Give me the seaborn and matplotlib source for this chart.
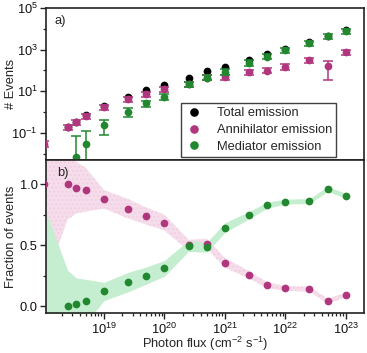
import numpy as np
import pandas as pd
import seaborn as sns
import matplotlib.pyplot as plt
from matplotlib.lines import Line2D
from matplotlib.ticker import LogLocator, NullFormatter, MultipleLocator

# photon flux (cm-2 s-1)
flux = [1e18, 2.5e18, 3.5e18, 5e18, 1e19, 2.5e19, 5e19, 1e20, 2.5e20, 5e20,
        1e21, 2.5e21, 5e21, 1e22, 2.5e22, 5e22, 1e23]

# panel a: number of events
total = [np.nan, 0.19, 0.33, 0.68, 1.95, 5.5, 11.5, 20, 42, 95,
         152, 318, 600, 1050, 2200, 4500, 8500]
annih = [0.030, 0.19, 0.32, 0.65, 1.7, 4.1, 7.2, 12.5, 22, 45,
         47, 82, 98, 152, 310, 165, 745]
annih_err = [0.009, 0.055, 0.09, 0.19, 0.48, 1.15, 2.0, 3.5, 6, 12,
             13, 23, 27, 42, 85, 132, 205]
med = [np.nan, np.nan, 0.0071, 0.0295, 0.235, 1.05, 2.6, 5.5, 22, 45,
       87, 237, 460, 975, 2050, 4300, 8100]
med_err = [np.nan, np.nan, 0.065, 0.09, 0.155, 0.45, 0.8, 1.6, 6, 12,
           24, 66, 125, 270, 570, 1200, 2200]

# panel b: fraction of events
annih_frac = [1.0, 1.0, 0.973, 0.956, 0.877, 0.80, 0.74, 0.686, 0.50, 0.514,
              0.355, 0.257, 0.172, 0.145, 0.139, 0.041, 0.09]
med_frac = [np.nan, 0.003, 0.02, 0.04, 0.12, 0.197, 0.251, 0.31, 0.494, 0.483,
            0.645, 0.746, 0.83, 0.858, 0.863, 0.961, 0.907]
frac_err = [0.83, 0.29, 0.21, 0.18, 0.075, 0.08, 0.07, 0.065, 0.045, 0.04,
            0.04, 0.03, 0.025, 0.02, 0.02, 0.02, 0.02]

labels = ["Total emission", "Annihilator emission", "Mediator emission"]
c_tot, c_ann, c_med = "black", "#B0377D", "#22882F"

sns.set_style("ticks")
plt.rcParams['font.family'] = ['Liberation Sans', 'DejaVu Sans']
plt.rcParams['mathtext.fontset'] = 'custom'
plt.rcParams['mathtext.rm'] = 'Liberation Sans'
plt.rcParams['mathtext.it'] = 'Liberation Sans:italic'
plt.rcParams['font.size'] = 9.3

fs = 9.3
fig = plt.figure(figsize=(3.67, 3.53), dpi=100)
ax1 = fig.add_axes([0.1253, 0.5467, 0.8665, 0.4306])
ax2 = fig.add_axes([0.1253, 0.1133, 0.8665, 0.4334])

df = pd.DataFrame({"flux": flux, "total": total, "annih": annih, "med": med,
                   "annih_frac": annih_frac, "med_frac": med_frac})

# ---- panel a
ax1.set_xscale('log')
ax1.set_yscale('log', nonpositive='clip')
ms = 31
sns.scatterplot(data=df, x="flux", y="total", color=c_tot, s=ms, linewidth=0,
                ax=ax1, zorder=3)
ax1.errorbar(flux, annih, yerr=annih_err, fmt='none', ecolor=c_ann,
             elinewidth=1.1, capsize=3.6, capthick=1.1, zorder=4)
sns.scatterplot(data=df, x="flux", y="annih", color=c_ann, s=ms, linewidth=0,
                ax=ax1, zorder=5)
ax1.errorbar(flux, med, yerr=med_err, fmt='none', ecolor=c_med,
             elinewidth=1.1, capsize=3.6, capthick=1.1, zorder=6)
sns.scatterplot(data=df, x="flux", y="med", color=c_med, s=ms, linewidth=0,
                ax=ax1, zorder=7)

ax1.set_xlim(10**18.04, 10**23.3)
ax1.set_ylim(10**-2.31, 1e5)
ax1.set_yticks([1e-1, 1e1, 1e3, 1e5])
ax1.set_yticks([1e-2, 1e0, 1e2, 1e4], minor=True)
ax1.yaxis.set_minor_formatter(NullFormatter())
ax1.set_xlabel("")
ax1.set_ylabel("# Events", fontsize=fs)
ax1.yaxis.set_label_coords(-0.09, 0.5)
ax1.text(0.028, 0.915, "a)", transform=ax1.transAxes, fontsize=fs, va='center')

handles = [Line2D([], [], ls='', marker='o', ms=6.2, mec='none', mfc=c)
           for c in (c_tot, c_ann, c_med)]
leg = ax1.legend(handles, labels, loc='lower left', bbox_to_anchor=(0.425, 0.018),
                 borderaxespad=0, fontsize=fs, frameon=True, fancybox=False,
                 edgecolor='#111', handlelength=1.3, handletextpad=1.1,
                 borderpad=0.35, labelspacing=0.36)
leg.get_frame().set_linewidth(1.0)

# ---- panel b
ax2.set_xscale('log')
fe = np.array(frac_err)
af = np.array(annih_frac)
mf = np.nan_to_num(np.array(med_frac))
ax2.fill_between(flux, af - fe, af + fe, facecolor="#F6DDEB", edgecolor="#F1CFE2",
                 hatch='....', linewidth=0, zorder=1)
ax2.fill_between(flux, mf - fe, mf + fe, color="#C4EECF", linewidth=0, zorder=2)
sns.scatterplot(data=df, x="flux", y="annih_frac", color=c_ann, s=ms, linewidth=0,
                ax=ax2, zorder=4)
sns.scatterplot(data=df, x="flux", y="med_frac", color=c_med, s=ms, linewidth=0,
                ax=ax2, zorder=5)
ax2.set_xlim(10**18.04, 10**23.3)
ax2.set_ylim(-0.057, 1.2)
ax2.yaxis.set_major_locator(MultipleLocator(0.5))
ax2.yaxis.set_minor_locator(MultipleLocator(0.25))
ax2.yaxis.set_major_formatter(plt.FuncFormatter(lambda v, p: f"{v:.1f}"))
ax2.xaxis.set_major_locator(LogLocator(base=10, numticks=12))
ax2.xaxis.set_minor_locator(LogLocator(base=10, subs=np.arange(2, 10), numticks=12))
ax2.xaxis.set_minor_formatter(NullFormatter())
ax2.set_xlabel("Photon flux (cm$^{-2}$ s$^{-1}$)", fontsize=fs)
ax2.set_ylabel("Fraction of events", fontsize=fs)
ax2.yaxis.set_label_coords(-0.09, 0.5)
ax2.xaxis.set_label_coords(0.5, -0.145)
ax2.text(0.035, 0.915, "b)", transform=ax2.transAxes, fontsize=fs, va='center')

for ax in (ax1, ax2):
    for sp in ax.spines.values():
        sp.set_visible(True)
        sp.set_linewidth(1.2)
        sp.set_color('#222')
    ax.tick_params(which='major', direction='out', length=4, width=1.0,
                   color='#222', labelsize=fs, labelcolor='#111', pad=2)
    ax.tick_params(which='minor', direction='out', length=2.5, width=0.9, color='#222')
ax1.tick_params(axis='x', which='both', bottom=False, labelbottom=False)

fig.savefig("out.png", dpi=100)
